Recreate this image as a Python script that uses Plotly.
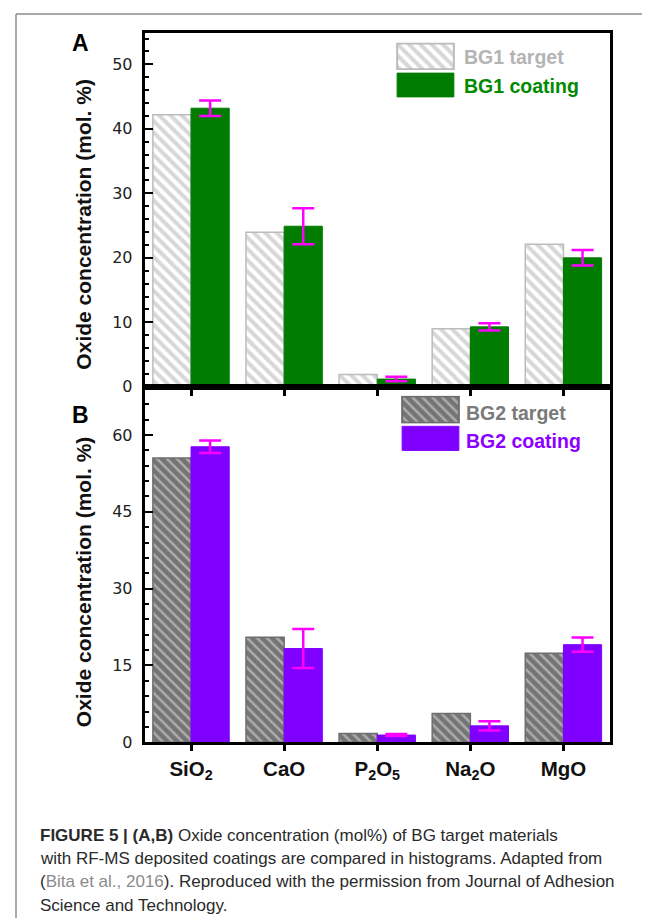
import plotly.graph_objects as go

# ---------------- data ----------------
categories = ["SiO2", "CaO", "P2O5", "Na2O", "MgO"]
tick_labels = ["<b>SiO<sub>2</sub></b>", "<b>CaO</b>", "<b>P<sub>2</sub>O<sub>5</sub></b>",
               "<b>Na<sub>2</sub>O</b>", "<b>MgO</b>"]

bg1_target = [42.2, 23.95, 1.9, 9.0, 22.1]
bg1_coating = [43.2, 24.9, 1.2, 9.3, 20.0]
bg1_coating_err = [1.2, 2.8, 0.35, 0.55, 1.2]

bg2_target = [55.5, 20.5, 1.7, 5.6, 17.4]
bg2_coating = [57.7, 18.3, 1.4, 3.2, 19.05]
bg2_coating_err = [1.2, 3.8, 0.2, 0.9, 1.4]

series_names = ["BG1 target", "BG1 coating", "BG2 target", "BG2 coating"]

caption_lines = [
    "<b>FIGURE 5 | (A,B)</b> Oxide concentration (mol%) of BG target materials",
    "with RF-MS deposited coatings are compared in histograms. Adapted from",
    "(<span style='color:#8a8a8a'>Bita et al., 2016</span>). Reproduced with the permission from Journal of Adhesion",
    "Science and Technology.",
]

# ---------------- layout helpers ----------------
W, H = 650, 920
def px(x):
    return x / W
def py(y):
    return 1 - y / H

GREEN = "#007d00"
PURPLE = "#8000ff"
MAGENTA = "#ff00ff"
LIGHT = "#bcbcbc"
DARK = "#6e6e6e"

pat_light = dict(shape="\\", bgcolor="white", fgcolor="#b0b0b0", size=8, solidity=0.5)
pat_dark = dict(shape="\\", bgcolor="#747474", fgcolor="#e8e8e8", size=7, solidity=0.35)

fig = go.Figure()

# Panel A
fig.add_trace(go.Bar(x=categories, y=bg1_target, name=series_names[0], xaxis="x", yaxis="y",
                     marker=dict(color="white", pattern=pat_light, line=dict(color=LIGHT, width=1.5))))
fig.add_trace(go.Bar(x=categories, y=bg1_coating, name=series_names[1], xaxis="x", yaxis="y",
                     marker=dict(color=GREEN, line=dict(color=GREEN, width=1)),
                     error_y=dict(type="data", array=bg1_coating_err, color=MAGENTA, thickness=2.5, width=11)))
# Panel B
fig.add_trace(go.Bar(x=categories, y=bg2_target, name=series_names[2], xaxis="x2", yaxis="y2",
                     marker=dict(color="#747474", pattern=pat_dark, line=dict(color=DARK, width=1.5))))
fig.add_trace(go.Bar(x=categories, y=bg2_coating, name=series_names[3], xaxis="x2", yaxis="y2",
                     marker=dict(color=PURPLE, line=dict(color=PURPLE, width=1)),
                     error_y=dict(type="data", array=bg2_coating_err, color=MAGENTA, thickness=2.5, width=11)))

# Legend swatches (as bars on tiny hidden axes)
swatches = [
    # (axis idx, x0, x1, y0, y1, marker)
    (3, 388, 447, 35, 62.7, dict(color="white", pattern=pat_light, line=dict(color=LIGHT, width=2))),
    (4, 388, 447, 65, 90.7, dict(color=GREEN, line=dict(color=GREEN, width=1))),
    (5, 393, 452, 392, 420, dict(color="#747474", pattern=pat_dark, line=dict(color=DARK, width=2))),
    (6, 393, 452, 422, 448, dict(color=PURPLE, line=dict(color=PURPLE, width=1))),
]
sw_layout = {}
for idx, x0, x1, y0, y1, mk in swatches:
    fig.add_trace(go.Bar(x=[0], y=[1], width=[1], xaxis=f"x{idx}", yaxis=f"y{idx}",
                         marker=mk, hoverinfo="skip", showlegend=False))
    sw_layout[f"xaxis{idx}"] = dict(domain=[px(x0), px(x1)], anchor=f"y{idx}", range=[-0.52, 0.52],
                                   visible=False, fixedrange=True)
    sw_layout[f"yaxis{idx}"] = dict(domain=[py(y1), py(y0)], anchor=f"x{idx}", range=[-0.03, 1.03],
                                   visible=False, fixedrange=True)

axis_common = dict(showline=True, linecolor="black", linewidth=2.5, mirror=True,
                   showgrid=False, zeroline=False, tickcolor="black")
tick_font = dict(family="DejaVu Sans, Arial", size=16, color="#222222")

fig.update_layout(
    width=W, height=H, margin=dict(l=0, r=0, t=0, b=0),
    paper_bgcolor="white", plot_bgcolor="white",
    showlegend=False, barmode="group", bargap=0.18, bargroupgap=0,
    xaxis=dict(domain=[px(136.5), px(602)], anchor="y", range=[-0.5, 4.5],
               ticks="outside", ticklen=6, tickwidth=2.5, showticklabels=False, **axis_common),
    yaxis=dict(domain=[py(383), py(25)], anchor="x", range=[0, 54.9], dtick=10, tick0=0,
               ticks="inside", ticklen=9, tickwidth=2, tickfont=tick_font, ticklabelstandoff=6,
               minor=dict(ticks="inside", dtick=2, ticklen=5, tickwidth=2, tickcolor="black"),
               **axis_common),
    xaxis2=dict(domain=[px(136.5), px(602)], anchor="y2", range=[-0.5, 4.5],
                tickmode="array", tickvals=categories, ticktext=tick_labels,
                ticks="outside", ticklen=6, tickwidth=2.5,
                tickfont=dict(family="Liberation Sans, Arial", size=20.5, color="#111111"),
                **axis_common),
    yaxis2=dict(domain=[py(742.3), py(383)], anchor="x2", range=[0, 69.4], dtick=15, tick0=0,
                ticks="inside", ticklen=9, tickwidth=2, tickfont=tick_font, ticklabelstandoff=6,
                minor=dict(ticks="inside", dtick=3, ticklen=5, tickwidth=2, tickcolor="black"),
                **axis_common),
    **sw_layout,
)

annotations = []
# y-axis titles
for yc in (218.5, 580):
    annotations.append(dict(text="<b>Oxide concentration (mol. %)</b>", x=px(75.5), y=py(yc),
                            xref="paper", yref="paper", showarrow=False, textangle=-90,
                            xanchor="center", yanchor="middle",
                            font=dict(family="Liberation Sans, Arial", size=21, color="#111111")))
# panel labels
for lab, yc in (("A", 35), ("B", 411.5)):
    annotations.append(dict(text=f"<b>{lab}</b>", x=px(72), y=py(yc), xref="paper", yref="paper",
                            showarrow=False, xanchor="center", yanchor="middle",
                            font=dict(family="Liberation Sans, Arial", size=23, color="black")))
# legend texts
legend_texts = [
    (series_names[0], 454, 50, "#b4b4b4"),
    (series_names[1], 454, 79, "#008a00"),
    (series_names[2], 456, 409, "#7a7a7a"),
    (series_names[3], 456, 438, "#8c00ff"),
]
for txt, xl, yc, col in legend_texts:
    annotations.append(dict(text=f"<b>{txt}</b>", x=px(xl), y=py(yc), xref="paper", yref="paper",
                            showarrow=False, xanchor="left", yanchor="middle",
                            font=dict(family="Liberation Sans, Arial", size=19.5, color=col)))
# caption
for i, line in enumerate(caption_lines):
    annotations.append(dict(text=line, x=px(29.5), y=py(837 + i * 23.3), xref="paper", yref="paper",
                            showarrow=False, xanchor="left", yanchor="middle", align="left",
                            font=dict(family="Liberation Sans, Arial", size=17, color="#2a2a2a")))
fig.update_layout(annotations=annotations)

# card frame
fig.update_layout(shapes=[
    dict(type="line", xref="paper", yref="paper", x0=px(8), x1=1.0, y0=py(6), y1=py(6),
         line=dict(color="#8c8c8c", width=1.5)),
    dict(type="line", xref="paper", yref="paper", x0=px(8), x1=px(8), y0=py(6), y1=0,
         line=dict(color="#8c8c8c", width=1.5)),
])

fig.write_html("out.html")
